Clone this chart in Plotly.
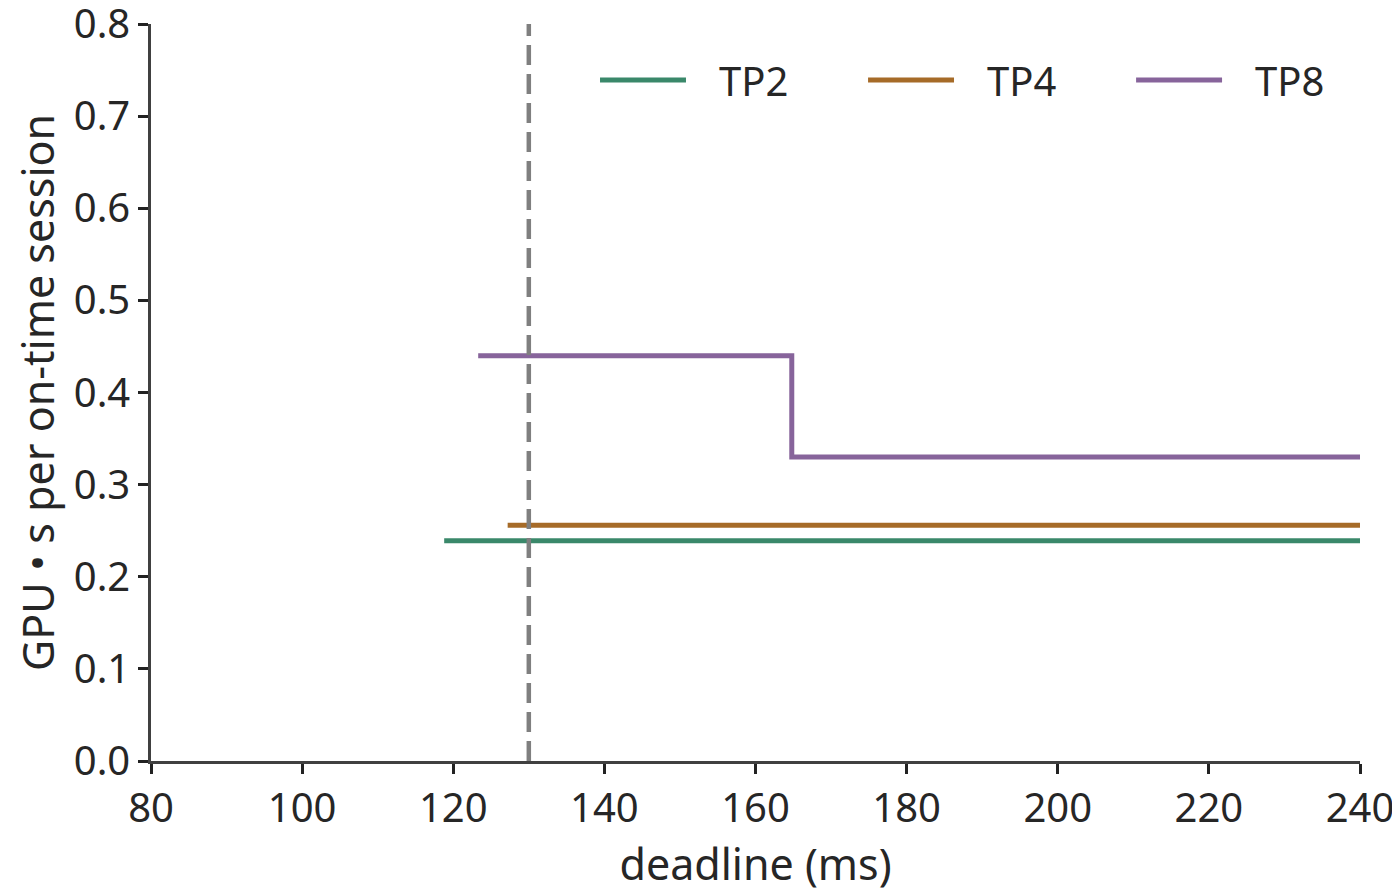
import plotly.graph_objects as go

# deadline (ms) vs GPU-seconds per on-time session, step curves
tp2_x = [118.8, 240]
tp2_y = [0.239, 0.239]
tp4_x = [127.2, 240]
tp4_y = [0.256, 0.256]
tp8_x = [123.3, 164.8, 240]
tp8_y = [0.44, 0.33, 0.33]
deadline_ms = 130

series = [
    ("TP2", tp2_x, tp2_y, "#3a886a"),
    ("TP4", tp4_x, tp4_y, "#a66b28"),
    ("TP8", tp8_x, tp8_y, "#87649b"),
]

FONT = "Noto Sans"
TXT = "#262626"

fig = go.Figure()
for name, xs, ys, col in series:
    fig.add_trace(go.Scatter(x=xs, y=ys, mode="lines", name=name, showlegend=False,
                             line=dict(color=col, width=5, shape="hv")))

fig.add_vline(x=deadline_ms, line=dict(color="#7f7f7f", width=4.5, dash="20px,9px"))

# legend drawn by hand so the sample lines are long like the original
leg_x0, leg_len, leg_gap, leg_step, leg_y = 0.3714, 0.0711, 0.0256, 0.2217, 0.924
for i, (name, xs, ys, col) in enumerate(series):
    x0 = leg_x0 + i * leg_step
    fig.add_shape(type="line", xref="paper", yref="paper", x0=x0, x1=x0 + leg_len,
                  y0=leg_y, y1=leg_y, line=dict(color=col, width=5))
    fig.add_annotation(xref="paper", yref="paper", x=x0 + leg_len + leg_gap, y=leg_y,
                       text=name, showarrow=False, xanchor="left", yanchor="middle",
                       font=dict(size=40, color=TXT, family=FONT))

axis_style = dict(showgrid=False, zeroline=False, showline=True, linecolor="#404040",
                  linewidth=2.5, ticks="outside", ticklen=10, tickwidth=2.5, automargin=False,
                  ticklabeloverflow="allow",
                  tickcolor="#222222", tickfont=dict(size=40, color=TXT, family=FONT))

fig.update_xaxes(range=[80, 240], dtick=20, title=dict(text="deadline (ms)", standoff=10,
                 font=dict(size=43, color=TXT, family=FONT)), **axis_style)
fig.update_yaxes(range=[0, 0.8], dtick=0.1, tickformat=".1f",
                 title=dict(text="GPU • s per on-time session", standoff=16,
                            font=dict(size=43, color=TXT, family=FONT)), **axis_style)

fig.update_layout(
    width=1392, height=887,
    margin=dict(l=143, r=40, t=16, b=134),
    plot_bgcolor="white", paper_bgcolor="white",
    font=dict(family=FONT, color=TXT),
    showlegend=False,
)

fig.write_html("out.html")
